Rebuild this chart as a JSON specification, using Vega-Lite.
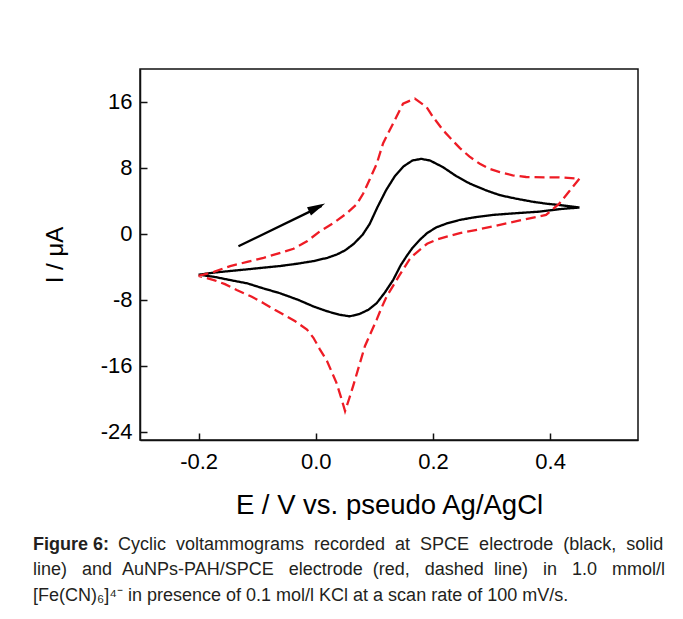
{
  "$schema": "https://vega.github.io/schema/vega-lite/v6.json",
  "autosize": {"type": "none"},
  "width": 498,
  "height": 371,
  "padding": {"left": 140, "top": 69, "right": 45, "bottom": 179},
  "background": "white",
  "config": {
    "view": {"stroke": "#111", "strokeWidth": 1.5},
    "font": "Liberation Sans",
    "axis": {"labelFont": "Liberation Sans", "titleFont": "Liberation Sans", "labelColor": "#000", "titleColor": "#000", "domainColor": "#111", "domainWidth": 1.5, "tickColor": "#111", "tickWidth": 1.5, "grid": false}
  },
  "title": {
    "text": "Figure 6:",
    "subtitle": [
      "\u200b\u00a0\u00a0\u00a0\u00a0\u00a0\u00a0\u00a0\u00a0\u00a0\u00a0\u00a0\u00a0\u00a0\u00a0\u00a0\u00a0\u00a0Cyclic \u00a0voltammograms \u00a0recorded \u00a0at \u00a0SPCE \u00a0electrode \u00a0(black, \u00a0solid",
      "line) \u00a0\u00a0and \u00a0AuNPs-PAH/SPCE \u00a0\u00a0electrode \u00a0(red, \u00a0\u00a0dashed \u00a0line) \u00a0\u00a0in \u00a0\u00a01.0 \u00a0\u00a0mmol/l",
      "[Fe(CN)\u2086]\u2074\u207b in presence of 0.1 mol/l KCl at a scan rate of 100 mV/s."
    ],
    "orient": "bottom",
    "anchor": "start",
    "frame": "group",
    "dx": -107,
    "offset": 17,
    "font": "Liberation Sans",
    "fontSize": 18,
    "fontWeight": "bold",
    "color": "#231f20",
    "subtitleFont": "Liberation Sans",
    "subtitleFontSize": 18,
    "subtitleColor": "#231f20",
    "subtitleLineHeight": 25.5,
    "subtitlePadding": -18
  },
  "datasets": {
    "cv": [
      {"s": "SPCE", "i": 1, "E": -0.2, "I": -4.95},
      {"s": "SPCE", "i": 2, "E": -0.174, "I": -4.7},
      {"s": "SPCE", "i": 3, "E": -0.146, "I": -4.5},
      {"s": "SPCE", "i": 4, "E": -0.117, "I": -4.3},
      {"s": "SPCE", "i": 5, "E": -0.09, "I": -4.1},
      {"s": "SPCE", "i": 6, "E": -0.061, "I": -3.9},
      {"s": "SPCE", "i": 7, "E": -0.03, "I": -3.6},
      {"s": "SPCE", "i": 8, "E": -0.004, "I": -3.3},
      {"s": "SPCE", "i": 9, "E": 0.02, "I": -2.9},
      {"s": "SPCE", "i": 10, "E": 0.036, "I": -2.5},
      {"s": "SPCE", "i": 11, "E": 0.05, "I": -2.0},
      {"s": "SPCE", "i": 12, "E": 0.065, "I": -1.2},
      {"s": "SPCE", "i": 13, "E": 0.08, "I": -0.1},
      {"s": "SPCE", "i": 14, "E": 0.092, "I": 1.2},
      {"s": "SPCE", "i": 15, "E": 0.105, "I": 3.2},
      {"s": "SPCE", "i": 16, "E": 0.12, "I": 5.3},
      {"s": "SPCE", "i": 17, "E": 0.135, "I": 7.0},
      {"s": "SPCE", "i": 18, "E": 0.15, "I": 8.2},
      {"s": "SPCE", "i": 19, "E": 0.165, "I": 8.9},
      {"s": "SPCE", "i": 20, "E": 0.18, "I": 9.1},
      {"s": "SPCE", "i": 21, "E": 0.195, "I": 8.9},
      {"s": "SPCE", "i": 22, "E": 0.217, "I": 8.1},
      {"s": "SPCE", "i": 23, "E": 0.24, "I": 7.0},
      {"s": "SPCE", "i": 24, "E": 0.263, "I": 6.1},
      {"s": "SPCE", "i": 25, "E": 0.29, "I": 5.3},
      {"s": "SPCE", "i": 26, "E": 0.314, "I": 4.7},
      {"s": "SPCE", "i": 27, "E": 0.34, "I": 4.3},
      {"s": "SPCE", "i": 28, "E": 0.37, "I": 3.9},
      {"s": "SPCE", "i": 29, "E": 0.395, "I": 3.65},
      {"s": "SPCE", "i": 30, "E": 0.416, "I": 3.5},
      {"s": "SPCE", "i": 31, "E": 0.45, "I": 3.2},
      {"s": "SPCE", "i": 32, "E": 0.416, "I": 3.0},
      {"s": "SPCE", "i": 33, "E": 0.382, "I": 2.7},
      {"s": "SPCE", "i": 34, "E": 0.34, "I": 2.5},
      {"s": "SPCE", "i": 35, "E": 0.302, "I": 2.3},
      {"s": "SPCE", "i": 36, "E": 0.27, "I": 2.0},
      {"s": "SPCE", "i": 37, "E": 0.246, "I": 1.7},
      {"s": "SPCE", "i": 38, "E": 0.225, "I": 1.3},
      {"s": "SPCE", "i": 39, "E": 0.206, "I": 0.8},
      {"s": "SPCE", "i": 40, "E": 0.19, "I": 0.1},
      {"s": "SPCE", "i": 41, "E": 0.178, "I": -0.7},
      {"s": "SPCE", "i": 42, "E": 0.165, "I": -1.7},
      {"s": "SPCE", "i": 43, "E": 0.155, "I": -2.7},
      {"s": "SPCE", "i": 44, "E": 0.145, "I": -3.8},
      {"s": "SPCE", "i": 45, "E": 0.132, "I": -5.6},
      {"s": "SPCE", "i": 46, "E": 0.118, "I": -7.1},
      {"s": "SPCE", "i": 47, "E": 0.104, "I": -8.4},
      {"s": "SPCE", "i": 48, "E": 0.09, "I": -9.2},
      {"s": "SPCE", "i": 49, "E": 0.075, "I": -9.7},
      {"s": "SPCE", "i": 50, "E": 0.058, "I": -10.0},
      {"s": "SPCE", "i": 51, "E": 0.04, "I": -9.8},
      {"s": "SPCE", "i": 52, "E": 0.02, "I": -9.4},
      {"s": "SPCE", "i": 53, "E": -0.004, "I": -8.8},
      {"s": "SPCE", "i": 54, "E": -0.03, "I": -8.0},
      {"s": "SPCE", "i": 55, "E": -0.061, "I": -7.2},
      {"s": "SPCE", "i": 56, "E": -0.09, "I": -6.6},
      {"s": "SPCE", "i": 57, "E": -0.117, "I": -6.0},
      {"s": "SPCE", "i": 58, "E": -0.146, "I": -5.6},
      {"s": "SPCE", "i": 59, "E": -0.174, "I": -5.2},
      {"s": "SPCE", "i": 60, "E": -0.2, "I": -4.95},
      {"s": "AuNPs-PAH/SPCE", "i": 1, "E": -0.2, "I": -5.1},
      {"s": "AuNPs-PAH/SPCE", "i": 2, "E": -0.174, "I": -4.6},
      {"s": "AuNPs-PAH/SPCE", "i": 3, "E": -0.146, "I": -3.9},
      {"s": "AuNPs-PAH/SPCE", "i": 4, "E": -0.117, "I": -3.4},
      {"s": "AuNPs-PAH/SPCE", "i": 5, "E": -0.089, "I": -2.9},
      {"s": "AuNPs-PAH/SPCE", "i": 6, "E": -0.06, "I": -2.3},
      {"s": "AuNPs-PAH/SPCE", "i": 7, "E": -0.038, "I": -1.8},
      {"s": "AuNPs-PAH/SPCE", "i": 8, "E": -0.015, "I": -0.9},
      {"s": "AuNPs-PAH/SPCE", "i": 9, "E": 0.007, "I": 0.3},
      {"s": "AuNPs-PAH/SPCE", "i": 10, "E": 0.03, "I": 1.3},
      {"s": "AuNPs-PAH/SPCE", "i": 11, "E": 0.053, "I": 2.5},
      {"s": "AuNPs-PAH/SPCE", "i": 12, "E": 0.07, "I": 3.6},
      {"s": "AuNPs-PAH/SPCE", "i": 13, "E": 0.081, "I": 4.9},
      {"s": "AuNPs-PAH/SPCE", "i": 14, "E": 0.092, "I": 6.6},
      {"s": "AuNPs-PAH/SPCE", "i": 15, "E": 0.104, "I": 8.5},
      {"s": "AuNPs-PAH/SPCE", "i": 16, "E": 0.115, "I": 11.0},
      {"s": "AuNPs-PAH/SPCE", "i": 17, "E": 0.132, "I": 13.4},
      {"s": "AuNPs-PAH/SPCE", "i": 18, "E": 0.149, "I": 15.8},
      {"s": "AuNPs-PAH/SPCE", "i": 19, "E": 0.169, "I": 16.4},
      {"s": "AuNPs-PAH/SPCE", "i": 20, "E": 0.189, "I": 15.4},
      {"s": "AuNPs-PAH/SPCE", "i": 21, "E": 0.2, "I": 14.2},
      {"s": "AuNPs-PAH/SPCE", "i": 22, "E": 0.217, "I": 12.6},
      {"s": "AuNPs-PAH/SPCE", "i": 23, "E": 0.23, "I": 11.6},
      {"s": "AuNPs-PAH/SPCE", "i": 24, "E": 0.246, "I": 10.4},
      {"s": "AuNPs-PAH/SPCE", "i": 25, "E": 0.262, "I": 9.4},
      {"s": "AuNPs-PAH/SPCE", "i": 26, "E": 0.28, "I": 8.5},
      {"s": "AuNPs-PAH/SPCE", "i": 27, "E": 0.296, "I": 7.9},
      {"s": "AuNPs-PAH/SPCE", "i": 28, "E": 0.314, "I": 7.5},
      {"s": "AuNPs-PAH/SPCE", "i": 29, "E": 0.336, "I": 7.1},
      {"s": "AuNPs-PAH/SPCE", "i": 30, "E": 0.359, "I": 6.9},
      {"s": "AuNPs-PAH/SPCE", "i": 31, "E": 0.39, "I": 6.85},
      {"s": "AuNPs-PAH/SPCE", "i": 32, "E": 0.416, "I": 6.85},
      {"s": "AuNPs-PAH/SPCE", "i": 33, "E": 0.45, "I": 6.7},
      {"s": "AuNPs-PAH/SPCE", "i": 34, "E": 0.433, "I": 5.2},
      {"s": "AuNPs-PAH/SPCE", "i": 35, "E": 0.416, "I": 3.7},
      {"s": "AuNPs-PAH/SPCE", "i": 36, "E": 0.393, "I": 2.3},
      {"s": "AuNPs-PAH/SPCE", "i": 37, "E": 0.359, "I": 1.8},
      {"s": "AuNPs-PAH/SPCE", "i": 38, "E": 0.33, "I": 1.35},
      {"s": "AuNPs-PAH/SPCE", "i": 39, "E": 0.302, "I": 0.9},
      {"s": "AuNPs-PAH/SPCE", "i": 40, "E": 0.275, "I": 0.5},
      {"s": "AuNPs-PAH/SPCE", "i": 41, "E": 0.246, "I": 0.1},
      {"s": "AuNPs-PAH/SPCE", "i": 42, "E": 0.225, "I": -0.3},
      {"s": "AuNPs-PAH/SPCE", "i": 43, "E": 0.206, "I": -0.7},
      {"s": "AuNPs-PAH/SPCE", "i": 44, "E": 0.19, "I": -1.2},
      {"s": "AuNPs-PAH/SPCE", "i": 45, "E": 0.178, "I": -1.9},
      {"s": "AuNPs-PAH/SPCE", "i": 46, "E": 0.168, "I": -2.5},
      {"s": "AuNPs-PAH/SPCE", "i": 47, "E": 0.16, "I": -3.1},
      {"s": "AuNPs-PAH/SPCE", "i": 48, "E": 0.143, "I": -5.0},
      {"s": "AuNPs-PAH/SPCE", "i": 49, "E": 0.132, "I": -6.3},
      {"s": "AuNPs-PAH/SPCE", "i": 50, "E": 0.121, "I": -7.6},
      {"s": "AuNPs-PAH/SPCE", "i": 51, "E": 0.112, "I": -9.0},
      {"s": "AuNPs-PAH/SPCE", "i": 52, "E": 0.104, "I": -10.4},
      {"s": "AuNPs-PAH/SPCE", "i": 53, "E": 0.094, "I": -12.0},
      {"s": "AuNPs-PAH/SPCE", "i": 54, "E": 0.084, "I": -13.6},
      {"s": "AuNPs-PAH/SPCE", "i": 55, "E": 0.074, "I": -16.0},
      {"s": "AuNPs-PAH/SPCE", "i": 56, "E": 0.064, "I": -18.4},
      {"s": "AuNPs-PAH/SPCE", "i": 57, "E": 0.057, "I": -20.0},
      {"s": "AuNPs-PAH/SPCE", "i": 58, "E": 0.05, "I": -21.5},
      {"s": "AuNPs-PAH/SPCE", "i": 59, "E": 0.043, "I": -19.8},
      {"s": "AuNPs-PAH/SPCE", "i": 60, "E": 0.035, "I": -18.0},
      {"s": "AuNPs-PAH/SPCE", "i": 61, "E": 0.019, "I": -15.4},
      {"s": "AuNPs-PAH/SPCE", "i": 62, "E": 0.007, "I": -14.0},
      {"s": "AuNPs-PAH/SPCE", "i": 63, "E": -0.004, "I": -12.6},
      {"s": "AuNPs-PAH/SPCE", "i": 64, "E": -0.015, "I": -11.6},
      {"s": "AuNPs-PAH/SPCE", "i": 65, "E": -0.035, "I": -10.6},
      {"s": "AuNPs-PAH/SPCE", "i": 66, "E": -0.05, "I": -10.0},
      {"s": "AuNPs-PAH/SPCE", "i": 67, "E": -0.07, "I": -9.2},
      {"s": "AuNPs-PAH/SPCE", "i": 68, "E": -0.089, "I": -8.4},
      {"s": "AuNPs-PAH/SPCE", "i": 69, "E": -0.11, "I": -7.6},
      {"s": "AuNPs-PAH/SPCE", "i": 70, "E": -0.135, "I": -6.8},
      {"s": "AuNPs-PAH/SPCE", "i": 71, "E": -0.155, "I": -6.1},
      {"s": "AuNPs-PAH/SPCE", "i": 72, "E": -0.174, "I": -5.6},
      {"s": "AuNPs-PAH/SPCE", "i": 73, "E": -0.2, "I": -5.1}
    ],
    "arrow": [
      {"E": -0.132, "I": -1.5, "E2": 0.01, "I2": 3.4, "Etip": 0.016, "Itip": 3.7}
    ]
  },
  "layer": [
    {
      "data": {"name": "cv"},
      "mark": {"type": "line", "strokeWidth": 2.3, "clip": true},
      "encoding": {
        "x": {
          "field": "E", "type": "quantitative",
          "scale": {"domain": [-0.3, 0.55], "nice": false, "zero": false},
          "axis": {
            "values": [-0.2, 0, 0.2, 0.4],
            "labelExpr": "datum.value < 0 ? '-' + format(-datum.value, '.1f') : format(datum.value, '.1f')",
            "labelFontSize": 22, "tickSize": -7, "labelPadding": 18,
            "title": "E / V  vs. pseudo Ag/AgCl", "titleFontSize": 27.5, "titleFontWeight": "normal", "titlePadding": 19
          }
        },
        "y": {
          "field": "I", "type": "quantitative",
          "scale": {"domain": [-25, 20], "nice": false, "zero": false},
          "axis": {
            "values": [-24, -16, -8, 0, 8, 16],
            "labelExpr": "datum.value < 0 ? '-' + format(-datum.value, 'd') : format(datum.value, 'd')",
            "labelFontSize": 22, "tickSize": -7, "labelPadding": 15,
            "title": "I / μA", "titleFontSize": 24, "titleFontWeight": "normal", "titlePadding": 33
          }
        },
        "order": {"field": "i", "type": "quantitative"},
        "detail": {"field": "s"},
        "color": {"field": "s", "type": "nominal", "legend": null,
          "scale": {"domain": ["SPCE", "AuNPs-PAH/SPCE"], "range": ["#000000", "#ee1c25"]}},
        "strokeDash": {"field": "s", "type": "nominal", "legend": null,
          "scale": {"domain": ["SPCE", "AuNPs-PAH/SPCE"], "range": [[1, 0], [10, 5]]}}
      }
    },
    {
      "data": {"name": "arrow"},
      "mark": {"type": "rule", "strokeWidth": 2.3, "color": "#000"},
      "encoding": {
        "x": {"field": "E", "type": "quantitative"},
        "y": {"field": "I", "type": "quantitative"},
        "x2": {"field": "E2"},
        "y2": {"field": "I2"}
      }
    },
    {
      "data": {"name": "arrow"},
      "mark": {"type": "point", "filled": true, "color": "#000", "opacity": 1, "size": 81, "angle": 333.7, "shape": "M 0 0 L -4 -1 L -4 1 Z"},
      "encoding": {
        "x": {"field": "Etip", "type": "quantitative"},
        "y": {"field": "Itip", "type": "quantitative"}
      }
    }
  ]
}
